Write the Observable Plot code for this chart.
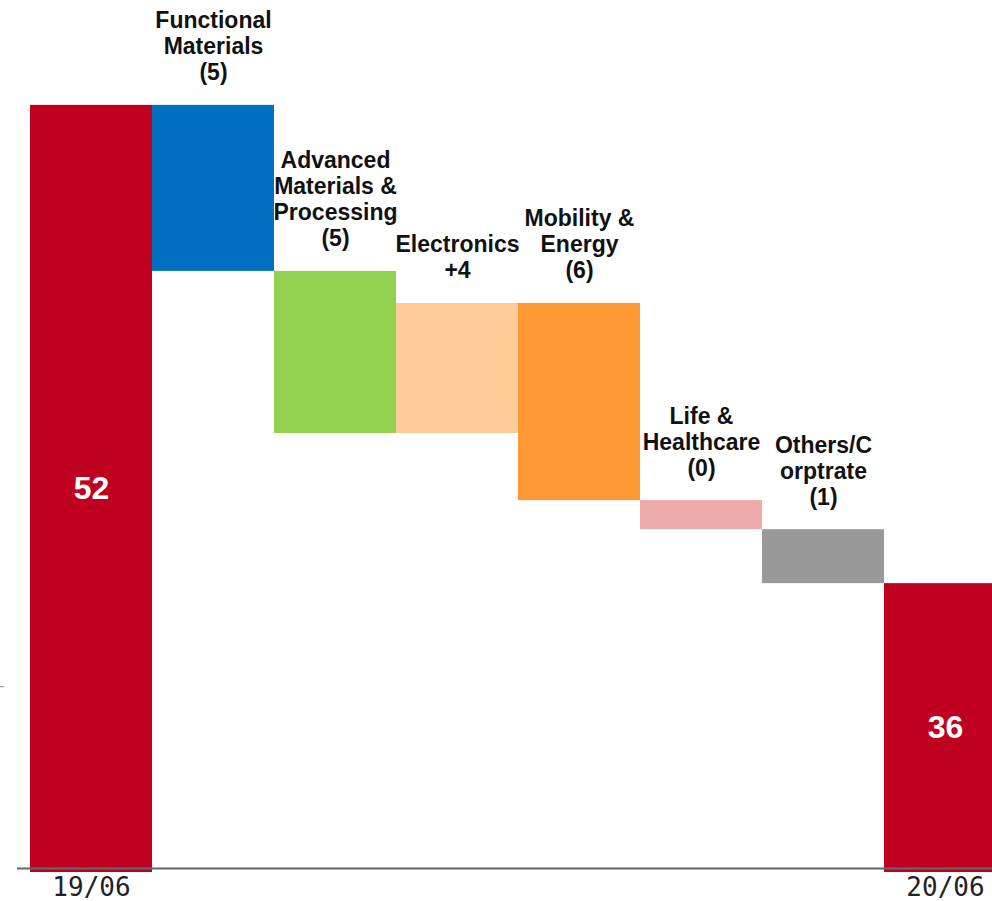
<!DOCTYPE html>
<html><head><meta charset="utf-8">
<script src="https://cdn.jsdelivr.net/npm/d3@7"></script>
<script src="https://cdn.jsdelivr.net/npm/@observablehq/plot@0.6"></script>
<style>html,body{margin:0;padding:0;overflow:hidden;background:#fff}</style>
</head><body><div id="chart"></div>
<script>
const categories = ["19/06","Functional Materials","Advanced Materials & Processing","Electronics","Mobility & Energy","Life & Healthcare","Others/Corptrate","20/06"];
const labels = ["52", "Functional\nMaterials\n(5)", "Advanced\nMaterials &\nProcessing\n(5)", "Electronics\n+4", "Mobility &\nEnergy\n(6)", "Life &\nHealthcare\n(0)", "Others/C\norptrate\n(1)", "36"];
const startValue = 52.0;
const deltas = [-5.54, -5.41, 4.34, -6.58, -0.97, -1.80];
const endValue = 36.04;
const colors = ["#C00020","#0070C0","#92D050","#FFCC99","#FF9933","#EEAAAA","#999999","#C00020"];
const xTickLabels = ["19/06", "20/06"];
const yTicks = [32.6];
const baseValue = 26.4;
const axisLineValue = 26.53;
const yTop = 55.5;

const rows = [];
rows.push({cat: categories[0], y1: baseValue, y2: startValue, color: colors[0], label: labels[0], total: true});
let level = startValue;
deltas.forEach((d, i) => {
  rows.push({cat: categories[i + 1], y1: level, y2: level + d, color: colors[i + 1], label: labels[i + 1], total: false});
  level += d;
});
rows.push({cat: categories[7], y1: baseValue, y2: endValue, color: colors[7], label: labels[7], total: true});

const totals = rows.filter(d => d.total);
const steps = rows.filter(d => !d.total);

const chart = Plot.plot({
  width: 992,
  height: 901,
  marginTop: 0,
  marginBottom: 29,
  marginLeft: 4,
  marginRight: 0,
  style: {background: "white"},
  x: {domain: categories, range: [30, 1006], padding: 0},
  y: {domain: [baseValue, yTop]},
  color: {type: "identity"},
  marks: [
    Plot.barY(rows, {x: "cat", y1: "y1", y2: "y2", fill: "color", insetLeft: 0, insetRight: 0}),
    Plot.ruleY([axisLineValue], {stroke: "#666", strokeWidth: 2, insetLeft: 13}),
    Plot.axisY({ticks: yTicks, tickFormat: () => "", tickSize: 4, stroke: "#888", label: null}),
    Plot.axisX({ticks: xTickLabels, tickSize: 0, tickPadding: 5, fontSize: 26, fontFamily: "DejaVu Sans Mono", fill: "#222", label: null}),
    Plot.text(totals, {x: "cat", y: d => (d.y1 + d.y2) / 2, text: "label", fill: "white", fontSize: 32, fontWeight: "bold", fontFamily: "Liberation Sans, Arial, sans-serif"}),
    Plot.text(steps, {x: "cat", y: d => Math.max(d.y1, d.y2), text: "label", lineAnchor: "bottom", dy: -25, fontSize: 23, lineHeight: 1.13, fontWeight: "bold", fill: "#111", fontFamily: "Liberation Sans, Arial, sans-serif"})
  ]
});
document.getElementById("chart").appendChild(chart);
</script>
</body></html>
